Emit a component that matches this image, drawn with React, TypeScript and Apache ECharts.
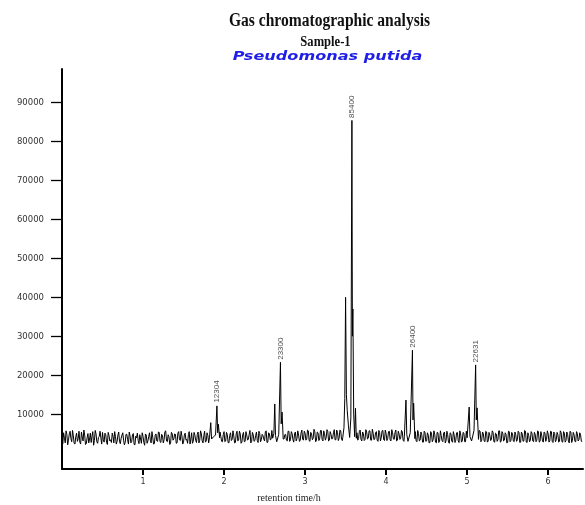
import React, { useEffect, useRef } from "react";
import * as echarts from "echarts";

// Baseline detector signal, sampled every 0.02 h from 0 h
const baselineStep = 0.02;
const baseline: number[] = [
  3500, 5200, 2600, 4800, 3300, 5600, 2900, 4400, 2300, 5100,
  3700, 2800, 5400, 3100, 4600, 2400, 5000, 3600, 2700, 5500,
  3200, 4900, 2500, 4300, 3800, 5300, 2800, 4700, 2200, 4500,
  3400, 5100, 2600, 4200, 3000, 5400, 2400, 4600, 3300, 2700,
  4800, 2300, 4400, 2900, 5000, 2100, 3900, 3200, 4700, 2500,
  4300, 2000, 4600, 3100, 5200, 2600, 4100, 2400, 4900, 3000,
  5300, 2700, 4500, 3400, 5700, 2900, 4200, 2500, 5000, 3600,
  4800, 2600, 5500, 3200, 4400, 2800, 5100, 3500, 4700, 2300,
  5200, 3000, 4600, 2700, 5400, 3300, 4900, 2600, 5600, 3100,
  4500, 2800, 5300, 3400, 4700, 2500, 5100, 3200, 4300, 2900,
  5500, 3100, 4800, 2600, 5200, 3500, 4400, 2700, 5600, 3300,
  4900, 2800, 5300, 3000, 4600, 3600, 5800, 2900, 4700, 3200,
  5400, 2700, 5000, 3400, 4500, 3100, 5700, 2800, 4900, 3500,
  5200, 3000, 4700, 3300, 5500, 2900, 5100, 3600, 4800, 3100,
  5600, 3400, 5000, 2800, 5400, 3700, 4600, 3200, 5900, 3300,
  5100, 3500, 5700, 3000, 4900, 3800, 5500, 3200, 5200, 3600,
  5800, 3100, 5000, 3900, 5600, 3300, 4800, 3700, 6000, 3400,
  5300, 3800, 5700, 3200, 5100, 3600, 5500, 3000, 4900, 3900,
  5600, 3400, 5200, 3700, 5900, 3100, 5000, 3500, 5400, 3800,
  5700, 3300, 5100, 3600, 5500, 3000, 5300, 3900, 5800, 3200,
  5000, 3700, 5600, 3100, 5200, 3500, 5900, 3300, 4900, 3800,
  5400, 3000, 5100, 3600, 5700, 3200, 4800, 3400, 5500, 2900,
  5000, 3300, 4700, 2800, 5300, 3100, 4600, 2700, 5100, 3400,
  4800, 2600, 5200, 3000, 4500, 2900, 5400, 3200, 4700, 2500,
  5000, 2800, 4600, 3300, 5300, 2700, 4900, 3100, 5100, 2900,
  5500, 3200, 4800, 2800, 5200, 3400, 4700, 3000, 5600, 3300,
  5000, 2900, 5400, 3100, 4600, 3500, 5300, 2800, 4900, 3400,
  5700, 3000, 5100, 3300, 4800, 2700, 5500, 3200, 5000, 2900,
  4700, 3400, 5300, 2800, 4900, 3100, 5600, 2700, 4500, 3200,
  5100, 2900, 4800, 3300, 5400, 3000, 4600, 2800, 5200, 3500,
  4900, 3100, 5500, 2700, 5000, 3400, 4700, 3000, 5300, 2800,
  5100, 3200, 4800, 2600, 5400, 3300, 4700, 2900, 5000, 3400,
  4600, 3000,
];

// Baseline samples taken half-way between the ones above (0.01 h + 0.02 h steps)
const baselineMid: number[] = [
  2400, 3800, 5700, 2100, 4900, 3700, 5800, 2500, 4200, 3000,
  5600, 2300, 4100, 5900, 2200, 3900, 2600, 5100, 4300, 2000,
  5800, 2900, 4000, 5600, 2300, 3400, 5100, 2700, 5300, 3100,
  2700, 4300, 5500, 2300, 4600, 2900, 3800, 5200, 2100, 4800,
  3400, 5400, 2600, 4700, 2200, 4300, 5100, 2400, 3600, 5200,
  2700, 4900, 2500, 4200, 3300, 5500, 2300, 4600, 3100, 5400,
  2900, 4800, 2600, 5500, 3100, 4700, 2200, 5300, 3300, 4900,
  2500, 5100, 3400, 5600, 2300, 4600, 3300, 2500, 5500, 3600,
  2500, 5300, 3200, 4800, 2600, 5700, 3100, 4400, 2800, 5200,
  2600, 4600, 3000, 5600, 2800, 4900, 2400, 5400, 3000, 4700,
  2900, 5300, 2700, 4500, 3200, 5700, 2600, 4900, 3100, 5600,
  2500, 4700, 2900, 5500, 3300, 4800, 2600, 5300, 3000, 4500,
  3200, 5600, 2900, 4800, 3600, 5500, 2700, 5200, 3400, 5800,
  2800, 5400, 3100, 4600, 3500, 5900, 2900, 4700, 3300, 5600,
  3000, 5500, 3400, 4900, 3100, 5700, 3000, 5100, 3600, 5600,
  3300, 5900, 3200, 5300, 3400, 6100, 2900, 5400, 3200, 5800,
  3500, 5700, 3300, 6000, 3100, 5500, 3600, 5200, 3400, 5900,
  3200, 5900, 3500, 5300, 3000, 6100, 3400, 5700, 3300, 5600,
  3100, 5800, 3300, 5600, 3500, 5400, 3200, 6000, 3600, 5700,
  3300, 6100, 3400, 5200, 3300, 5800, 3100, 5700, 3400, 5900,
  3200, 5500, 3300, 6000, 3600, 5300, 3100, 5600, 3500, 5800,
  3300, 5700, 2900, 5500, 3000, 5900, 3300, 5200, 3200, 5800,
  3100, 5400, 2800, 5600, 3000, 5200, 2600, 5500, 2900, 5700,
  2800, 5300, 2700, 5700, 3200, 5100, 2600, 5600, 2800, 5200,
  3000, 5500, 2700, 5200, 3100, 5700, 2800, 5300, 2900, 5600,
  2800, 5400, 3100, 5500, 2900, 5200, 3000, 5800, 2900, 5400,
  3100, 5600, 2800, 5300, 3200, 5700, 2900, 5100, 3000, 5700,
  2800, 5500, 3100, 5200, 2600, 5600, 2900, 5300, 3100, 5400,
  3000, 5600, 2700, 5400, 3000, 5800, 2800, 5200, 2900, 5500,
  3100, 5300, 2900, 5700, 2800, 5500, 3100, 5400, 3000, 5700,
  2800, 5600, 3000, 5400, 2900, 5300, 2800, 5700, 2900, 5500,
  2800, 5400, 3100, 5600, 2700, 5300, 3000, 5500, 3100, 5200,
  3000,
];

// Peak regions: [retention time (h), signal]
const peak1: [number, number][] = [
  [1.82, 3900], [1.836, 7800], [1.846, 3600], [1.87, 4200], [1.895, 4600],
  [1.912, 12100], [1.921, 5200], [1.93, 7400], [1.945, 3900],
];
const peak2: [number, number][] = [
  [2.6, 3800], [2.615, 5000], [2.626, 12600], [2.635, 4500], [2.65, 2900],
  [2.675, 4800], [2.696, 23300], [2.705, 7500], [2.716, 10500], [2.73, 3600],
];
const peak3: [number, number][] = [
  [3.465, 4000], [3.48, 6500], [3.49, 14000], [3.5, 40000], [3.51, 15000],
  [3.52, 11000], [3.535, 7000], [3.55, 4000], [3.565, 9000], [3.578, 85400],
  [3.584, 30000], [3.59, 37000], [3.6, 10000], [3.612, 4200], [3.622, 11500],
  [3.632, 3800],
];
const peak4: [number, number][] = [
  [4.225, 4200], [4.245, 13600], [4.255, 4800], [4.27, 3000], [4.298, 5200],
  [4.325, 26400], [4.332, 8500], [4.34, 12800], [4.355, 3700],
];
const peak5: [number, number][] = [
  [5.0, 3900], [5.025, 11800], [5.035, 4200], [5.055, 3100], [5.085, 5800],
  [5.105, 22631], [5.113, 8500], [5.123, 11600], [5.14, 3500],
];
const peaks = [peak1, peak2, peak3, peak4, peak5];

// Peak annotations
const peakTimes = [1.912, 2.696, 3.578, 4.325, 5.105];
const peakLabels = ["12304", "23300", "85400", "26400", "22631"];

// Axis ticks
const yTicks = [10000, 20000, 30000, 40000, 50000, 60000, 70000, 80000, 90000];
const xTicks = [1, 2, 3, 4, 5, 6];

function buildSignal(): [number, number][] {
  const pts: [number, number][] = [];
  const inPeak = (t: number) =>
    peaks.some((p) => t >= p[0][0] && t <= p[p.length - 1][0]);
  baseline.forEach((v, i) => {
    const t = +(i * baselineStep).toFixed(4);
    if (!inPeak(t)) pts.push([t, v]);
  });
  baselineMid.forEach((v, i) => {
    const t = +(i * baselineStep + baselineStep / 2).toFixed(4);
    if (!inPeak(t)) pts.push([t, v]);
  });
  peaks.forEach((p) => p.forEach((pt) => pts.push(pt)));
  pts.sort((a, b) => a[0] - b[0]);
  return pts;
}

export default function App() {
  const ref = useRef<HTMLDivElement>(null);
  useEffect(() => {
    if (!ref.current) return;
    const chart = echarts.init(ref.current, undefined, { renderer: "svg" });
    const labelFont = '"DejaVu Sans", sans-serif';
    chart.setOption({
      animation: false,
      grid: { left: 62, right: 2, top: 69, bottom: 36, containLabel: false },
      xAxis: {
        type: "value",
        min: 0,
        max: 6.43,
        axisLine: { onZero: false, lineStyle: { color: "#000", width: 2 } },
        axisTick: { customValues: xTicks, length: 6, lineStyle: { color: "#000", width: 2 } },
        axisLabel: {
          customValues: xTicks,
          margin: 8,
          fontSize: 8,
          fontFamily: labelFont,
          color: "#333",
          formatter: (v: number) => String(v),
        },
        splitLine: { show: false },
      },
      yAxis: {
        type: "value",
        min: -4100,
        max: 98600,
        axisLine: { show: true, onZero: false, lineStyle: { color: "#000", width: 2 } },
        axisTick: { show: true, customValues: yTicks, length: 11, lineStyle: { color: "#000", width: 1.3 } },
        axisLabel: {
          customValues: yTicks,
          margin: 18,
          fontSize: 8.5,
          fontFamily: labelFont,
          color: "#333",
          formatter: (v: number) => String(v),
        },
        splitLine: { show: false },
      },
      graphic: [
        {
          type: "text",
          x: 329.5,
          y: 20,
          scaleX: 0.82,
          style: {
            text: "Gas chromatographic analysis",
            font: 'bold 19px "Liberation Serif", serif',
            fill: "#111",
            align: "center",
            verticalAlign: "middle",
          },
        },
        {
          type: "text",
          x: 325.5,
          y: 41,
          scaleX: 0.9,
          style: {
            text: "Sample-1",
            font: 'bold 14px "Liberation Serif", serif',
            fill: "#111",
            align: "center",
            verticalAlign: "middle",
          },
        },
        {
          type: "text",
          x: 327.5,
          y: 55.5,
          scaleX: 1.24,
          style: {
            text: "Pseudomonas putida",
            font: 'italic bold 13px "DejaVu Sans", sans-serif',
            fill: "#1e1ee6",
            align: "center",
            verticalAlign: "middle",
          },
        },
        {
          type: "text",
          x: 289,
          y: 497,
          style: {
            text: "retention time/h",
            font: '10px "Liberation Serif", serif',
            fill: "#222",
            align: "center",
            verticalAlign: "middle",
          },
        },
      ],
      series: [
        {
          type: "line",
          data: buildSignal(),
          showSymbol: false,
          symbol: "none",
          lineStyle: { color: "#000", width: 1 },
          silent: true,
        },
        {
          type: "scatter",
          data: peakTimes.map((t, i) => [t, Number(peakLabels[i])]),
          symbolSize: 1,
          itemStyle: { color: "transparent" },
          label: {
            show: true,
            position: "top",
            distance: 2,
            rotate: 90,
            align: "left",
            verticalAlign: "middle",
            fontSize: 8,
            fontFamily: '"Liberation Sans", Arial, sans-serif',
            color: "#222",
            formatter: (p: any) => peakLabels[p.dataIndex],
          },
          silent: true,
        },
      ],
    });
    return () => chart.dispose();
  }, []);
  return (
    <div
      ref={ref}
      style={{ position: "fixed", left: 0, top: 0, width: 585, height: 505 }}
    />
  );
}
